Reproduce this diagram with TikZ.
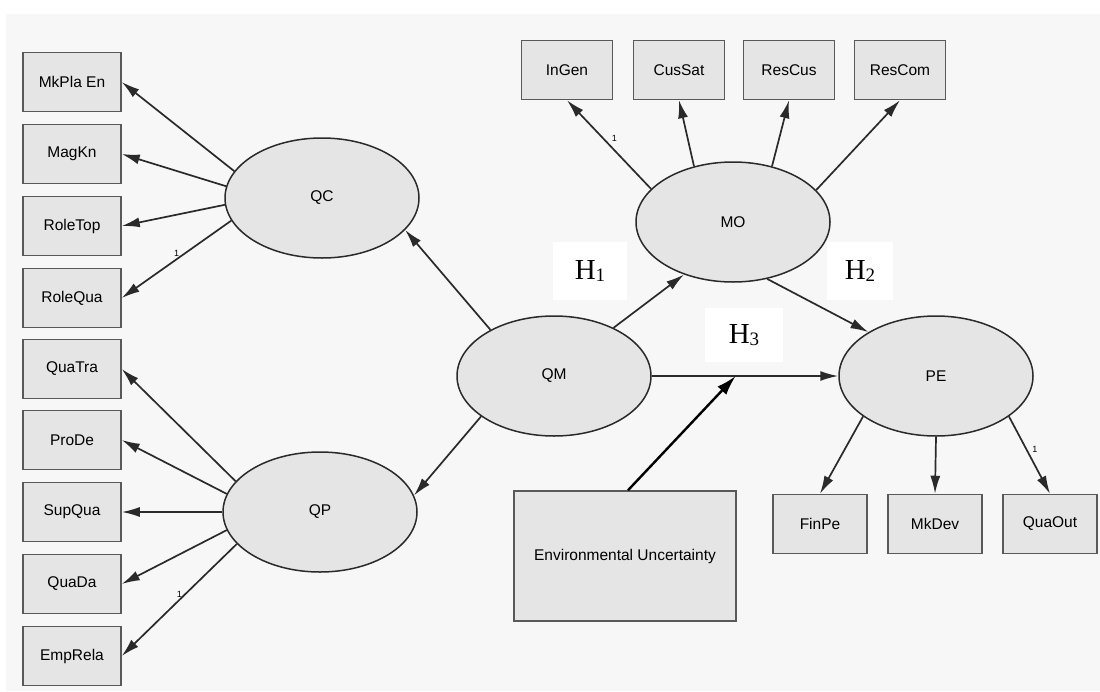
\documentclass[tikz,border=0pt]{standalone}
\usepackage{fontspec}
\setmainfont{Liberation Sans}
\newfontfamily\hypfont{Liberation Serif}
\usetikzlibrary{arrows.meta,shapes.geometric}
\definecolor{panel}{HTML}{F7F7F7}
\definecolor{boxfill}{HTML}{E5E5E5}
\definecolor{edge}{HTML}{2A2A2A}
\newcommand{\hsub}[1]{\raisebox{-2pt}{\fontsize{19}{19}\selectfont #1}}
\tikzset{
  obs/.style={draw=black!65,line width=1.5pt,fill=boxfill,minimum width=98pt,
    minimum height=59pt,inner sep=0pt,font=\fontsize{15.5}{18}\selectfont},
  lat/.style={ellipse,draw=edge,line width=1.5pt,fill=boxfill,minimum width=194pt,
    minimum height=120pt,inner sep=0pt,font=\fontsize{15.5}{18}\selectfont},
  arr/.style={-{Latex[length=18pt,width=10pt]},draw=edge,line width=1.7pt},
  one/.style={font=\fontsize{9}{9}\selectfont,inner sep=2pt},
  hyp/.style={fill=white,inner sep=0pt,font=\hypfont\fontsize{29}{30}\selectfont}
}
\begin{document}
\begin{tikzpicture}[x=1pt,y=-1pt]
  \fill[white] (0,0) rectangle (1100,691);
  \fill[panel] (6,14) rectangle (1100,691);
  \useasboundingbox (0,0) rectangle (1100,691);
  \draw
    (72,82) node[obs] (mkpla){MkPla En}
    (72,154) node[obs] (magkn){MagKn}
    (72,226) node[obs] (roletop){RoleTop}
    (72,298) node[obs] (rolequa){RoleQua}
    (72,369) node[obs] (quatra){QuaTra}
    (72,440) node[obs] (prode){ProDe}
    (72,512) node[obs] (supqua){SupQua}
    (72,584) node[obs] (quada){QuaDa}
    (72,656) node[obs] (emprela){EmpRela}
    (322,198) node[lat] (qc){QC}
    (320,512) node[lat] (qp){QP}
    (554,376) node[lat] (qm){QM}
    (733,222) node[lat] (mo){MO}
    (936,376) node[lat] (pe){PE}
    (567,70) node[obs,minimum width=91pt] (ingen){InGen}
    (679,70) node[obs,minimum width=91pt] (cussat){CusSat}
    (789,70) node[obs,minimum width=91pt] (rescus){ResCus}
    (900,70) node[obs,minimum width=91pt] (rescom){ResCom}
    (820,524) node[obs,minimum width=94pt] (finpe){FinPe}
    (935,524) node[obs,minimum width=94pt] (mkdev){MkDev}
    (1050,524) node[obs,minimum width=94pt] (quaout){QuaOut}
    (625,556) node[obs,minimum width=222pt,minimum height=130pt] (env){Environmental Uncertainty};
  \draw
    (590,271) node[hyp,minimum width=74pt,minimum height=58pt] (h1){H\hsub{1}}
    (860,271) node[hyp,minimum width=66pt,minimum height=58pt] (h2){H\hsub{2}}
    (744,335) node[hyp,minimum width=78pt,minimum height=54pt] (h3){H\hsub{3}};
  \begin{scope}[arr]
    \draw (qc.163) to (mkpla.east);
    \draw (qc.173) to (magkn.east);
    \draw (qc.184) to (roletop.east);
    \draw (qc.194) to node[one,above]{1} (rolequa.east);
    \draw (qp.160) to (quatra.east);
    \draw (qp.169) to (prode.east);
    \draw (qp.180) to (supqua.east);
    \draw (qp.191) to (quada.east);
    \draw (qp.201) to node[one,above]{1} (emprela.east);
    \draw (qm.144) to (qc.339);
    \draw (qm.209) to (qp.10);
    \draw (qm.39) to (mo.227);
    \draw (mo.301) to (pe.147);
    \draw (qm.east) to coordinate[pos=0.45] (mod) (pe.west);
    \draw (mo.158) to node[one,above right]{1} (ingen.south);
    \draw (mo.125) to (cussat.south);
    \draw (mo.55) to (rescus.south);
    \draw (mo.21) to (rescom.south);
    \draw (pe.209) to (finpe.north);
    \draw (pe.south) to (mkdev.north);
    \draw (pe.331) to node[one,above right]{1} (quaout.north);
  \end{scope}
  \draw[-{Latex[length=20pt,width=12pt]},line width=2.4pt] ([xshift=3pt]env.north) to (mod);
\end{tikzpicture}
\end{document}
